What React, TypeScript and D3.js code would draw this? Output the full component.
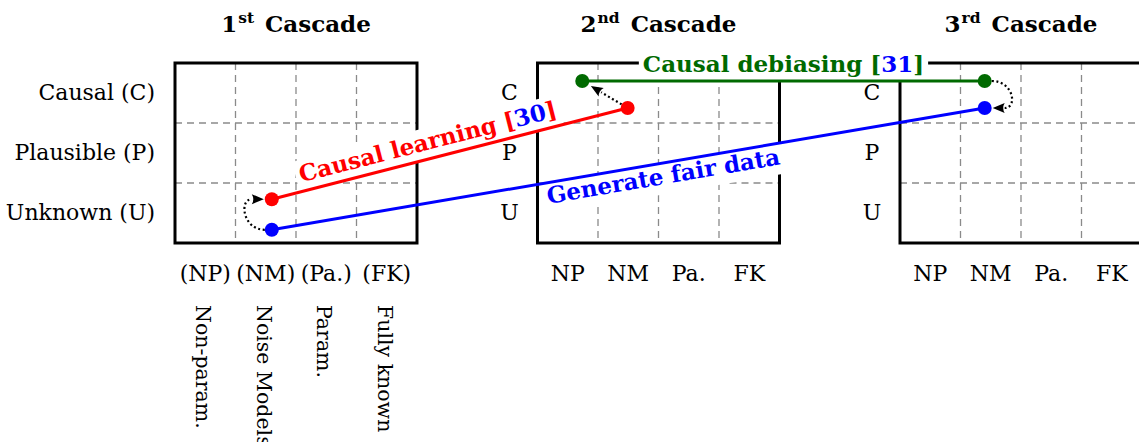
import React, { useEffect, useRef } from 'react';
import * as d3 from 'd3';

const W = 1139;
const H = 442;

// ---- data ----
const cascadeNumbers = ['1', '2', '3'];
const cascadeSuffixes = ['st', 'nd', 'rd'];
const rowLabelsLong = ['Unknown (U)', 'Plausible (P)', 'Causal (C)'];
const rowLabelsShort = ['U', 'P', 'C'];
const colLabelsParen = ['(NP)', '(NM)', '(Pa.)', '(FK)'];
const colLabelsShort = ['NP', 'NM', 'Pa.', 'FK'];
const colNamesLong = ['Non-param.', 'Noise Models', 'Param.', 'Fully known'];

// points: panel index, column coordinate (0..4), row coordinate (0..3, bottom = 0)
const pointIds = ['r1', 'b1', 'r2', 'g2', 'g3', 'b3'];
const pointPanel = [0, 0, 1, 1, 2, 2];
const pointCol = [1.6, 1.6, 1.49, 0.74, 1.4, 1.4];
const pointRow = [0.73, 0.22, 2.25, 2.7, 2.7, 2.25];
const pointColors = ['#ff0000', '#0000ff', '#ff0000', '#006a00', '#006a00', '#0000ff'];

// transitions between cascades (solid lines with labels)
const transFrom = ['r1', 'b1', 'g2'];
const transTo = ['r2', 'b3', 'g3'];
const transColors = ['#ff0000', '#0000ff', '#006a00'];
const transLabelText = [
  ['Causal learning [', '30', ']'],
  ['Generate fair data'],
  ['Causal debiasing [', '31', ']'],
];
const transLabelPos = [0.45, 0.546, 0.5];
const transLabelSide = ['above', 'below', 'above'];

// dotted arrows inside a cascade
const arrowFrom = ['b1', 'r2', 'g3'];
const arrowTo = ['r1', 'g2', 'b3'];
const arrowBend = [-1, 0, 1]; // -1 bulge left, 1 bulge right, 0 straight

export default function App() {
  const ref = useRef<SVGSVGElement>(null);

  useEffect(() => {
    const svg = d3.select(ref.current as SVGSVGElement);
    svg.selectAll('*').remove();
    const serif = "'DejaVu Serif', serif";

    const panelX = d3.scaleLinear().domain([0, 2]).range([175, 900]);
    const colX = d3.scaleLinear().domain([0, 4]).range([0, 242]);
    const rowY = d3.scaleLinear().domain([0, 3]).range([243, 63]);

    svg.append('rect').attr('width', W).attr('height', H).attr('fill', '#fff');

    // ---- panels ----
    cascadeNumbers.forEach((num, p) => {
      const x0 = panelX(p);
      const g = svg.append('g');
      // dashed grid
      d3.range(1, 4).forEach((i) => {
        g.append('line')
          .attr('x1', x0 + colX(i)).attr('x2', x0 + colX(i))
          .attr('y1', rowY(3)).attr('y2', rowY(0))
          .attr('stroke', '#8a8a8a').attr('stroke-width', 1.3)
          .attr('stroke-dasharray', '7,5');
      });
      d3.range(1, 3).forEach((j) => {
        g.append('line')
          .attr('x1', x0).attr('x2', x0 + colX(4))
          .attr('y1', rowY(j)).attr('y2', rowY(j))
          .attr('stroke', '#8a8a8a').attr('stroke-width', 1.3)
          .attr('stroke-dasharray', '7,5');
      });
      // frame
      g.append('rect')
        .attr('x', x0).attr('y', rowY(3))
        .attr('width', colX(4)).attr('height', rowY(0) - rowY(3))
        .attr('fill', 'none').attr('stroke', '#000').attr('stroke-width', 3);

      // title
      const t = g.append('text')
        .attr('x', x0 + colX(2)).attr('y', 32)
        .attr('text-anchor', 'middle')
        .attr('font-family', serif).attr('font-weight', 'bold').attr('font-size', 23);
      t.append('tspan').text(num);
      t.append('tspan').attr('font-size', 15.5).attr('dy', -9).attr('dx', 1).text(cascadeSuffixes[p]);
      t.append('tspan').attr('dy', 9).attr('dx', 3).text(' Cascade');

      // row labels
      rowLabelsShort.forEach((lab, j) => {
        const yc = rowY(j + 0.5);
        if (p === 0) {
          g.append('text')
            .attr('x', 155).attr('y', yc + 7)
            .attr('text-anchor', 'end')
            .attr('font-family', serif).attr('font-size', 22)
            .text(rowLabelsLong[j]);
        } else {
          g.append('text')
            .attr('x', x0 - 28).attr('y', yc + 7)
            .attr('text-anchor', 'middle')
            .attr('font-family', serif).attr('font-size', 22)
            .text(lab);
        }
      });

      // column labels
      colLabelsShort.forEach((lab, i) => {
        const xc = x0 + colX(i + 0.5);
        g.append('text')
          .attr('x', xc).attr('y', 281)
          .attr('text-anchor', 'middle')
          .attr('font-family', serif).attr('font-size', 22)
          .text(p === 0 ? colLabelsParen[i] : lab);
        if (p === 0) {
          g.append('text')
            .attr('transform', `translate(${xc - 2},305) rotate(90)`)
            .attr('text-anchor', 'start')
            .attr('dominant-baseline', 'central')
            .attr('font-family', serif).attr('font-size', 20.5)
            .text(colNamesLong[i]);
        }
      });
    });

    // ---- point positions ----
    const pos: Record<string, { x: number; y: number }> = {};
    pointIds.forEach((id, k) => {
      pos[id] = { x: panelX(pointPanel[k]) + colX(pointCol[k]), y: rowY(pointRow[k]) };
    });

    // ---- transition labels (white boxes) ----
    transFrom.forEach((fid, k) => {
      const A = pos[fid];
      const B = pos[transTo[k]];
      const theta = (Math.atan2(B.y - A.y, B.x - A.x) * 180) / Math.PI;
      const t = transLabelPos[k];
      const P = { x: A.x + t * (B.x - A.x), y: A.y + t * (B.y - A.y) };
      const above = transLabelSide[k] === 'above';
      const g = svg.append('g').attr('transform', `translate(${P.x},${P.y}) rotate(${theta})`);
      const rect = g.append('rect').attr('fill', '#fff');
      const text = g.append('text')
        .attr('x', 0).attr('y', above ? -9 : 21)
        .attr('text-anchor', 'middle')
        .attr('font-family', serif).attr('font-weight', 'bold').attr('font-size', 23);
      transLabelText[k].forEach((part) => {
        const isCite = /^\d+$/.test(part);
        text.append('tspan').attr('fill', isCite ? '#0000ff' : transColors[k]).text(part);
      });
      const w = (text.node() as SVGTextElement).getComputedTextLength();
      rect.attr('x', -w / 2 - 4).attr('width', w + 8)
        .attr('y', above ? -31 : 0).attr('height', 31);
    });

    // ---- transition lines ----
    transFrom.forEach((fid, k) => {
      const A = pos[fid];
      const B = pos[transTo[k]];
      svg.append('line')
        .attr('x1', A.x).attr('y1', A.y).attr('x2', B.x).attr('y2', B.y)
        .attr('stroke', transColors[k]).attr('stroke-width', 3);
    });

    // ---- dotted arrows ----
    const r = 7;
    const L = 12;
    const HW = 5;
    arrowFrom.forEach((fid, k) => {
      const p0 = pos[fid];
      const p1 = pos[arrowTo[k]];
      const dir = arrowBend[k];
      const path = d3.path();
      let tip: { x: number; y: number };
      let ux: number;
      let uy: number;
      if (dir !== 0) {
        const S = { x: p0.x + dir * r, y: p0.y };
        tip = { x: p1.x + dir * (r + 1), y: p1.y };
        const base = { x: tip.x + dir * L, y: tip.y };
        path.moveTo(S.x, S.y);
        path.bezierCurveTo(S.x + dir * 22, S.y, base.x + dir * 13, base.y, base.x, base.y);
        ux = -dir;
        uy = 0;
      } else {
        const dx = p1.x - p0.x;
        const dy = p1.y - p0.y;
        const len = Math.hypot(dx, dy);
        ux = dx / len;
        uy = dy / len;
        const S = { x: p0.x + ux * r, y: p0.y + uy * r };
        tip = { x: p1.x - ux * (r + 3), y: p1.y - uy * (r + 3) };
        path.moveTo(S.x, S.y);
        path.lineTo(tip.x - ux * L, tip.y - uy * L);
      }
      svg.append('path')
        .attr('d', path.toString())
        .attr('fill', 'none').attr('stroke', '#000')
        .attr('stroke-width', 2.2).attr('stroke-dasharray', '2,2.6');
      const bx = tip.x - ux * L;
      const by = tip.y - uy * L;
      const nx = -uy;
      const ny = ux;
      svg.append('path')
        .attr('d', `M${tip.x},${tip.y} L${bx + nx * HW},${by + ny * HW} Q${tip.x - ux * L * 0.75},${tip.y - uy * L * 0.75} ${bx - nx * HW},${by - ny * HW} Z`)
        .attr('fill', '#000');
    });

    // ---- dots ----
    pointIds.forEach((id, k) => {
      svg.append('circle')
        .attr('cx', pos[id].x).attr('cy', pos[id].y).attr('r', r)
        .attr('fill', pointColors[k]);
    });
  }, []);

  return (
    <svg
      ref={ref}
      width={W}
      height={H}
      style={{ position: 'absolute', left: 0, top: 0, display: 'block' }}
    />
  );
}
